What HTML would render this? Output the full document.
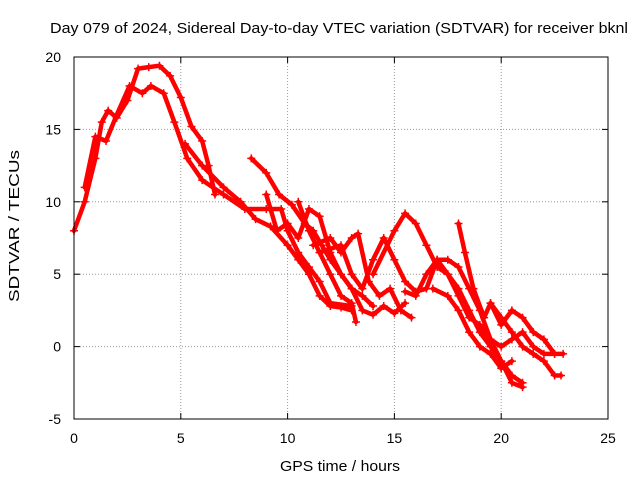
<!DOCTYPE html>
<html><head><meta charset="utf-8"><style>
body{margin:0;background:#fff}
svg{display:block;font-family:"Liberation Sans",sans-serif;font-size:14px}
</style></head><body>
<svg id="c" width="640" height="480">
<text x="50" y="33" textLength="578" lengthAdjust="spacingAndGlyphs" font-size="15">Day 079 of 2024, Sidereal Day-to-day VTEC variation (SDTVAR) for receiver bknl</text>
<text x="280" y="471" textLength="120" lengthAdjust="spacingAndGlyphs" font-size="15">GPS time / hours</text>
<text transform="translate(19,302) rotate(-90)" textLength="152" lengthAdjust="spacingAndGlyphs" font-size="15">SDTVAR / TECUs</text>
<g id="grid"></g><g id="ticks"></g><g id="marks"></g>
<rect x="74" y="57" width="534" height="362" fill="none" stroke="#000"/>
</svg>
<script>
const xTicks=[0,5,10,15,20,25];
const yTicks=[-5,0,5,10,15,20];
const t1=[[0,8],[0.5,10],[1,13],[1.3,15.5],[1.6,16.3],[2,15.8],[2.5,17],[3,19.2],[3.5,19.3],[4,19.4],[4.5,18.7],[5,17.2],[5.5,15.2],[6,14.2],[6.3,12.5],[6.6,10.5]];
const t2=[[0.5,11],[1,14.5],[1.5,14.2],[2,16],[2.6,18],[3.2,17.5],[3.6,18],[4.2,17.5],[4.7,15.5],[5.3,13],[6,11.5],[7,10.5],[8,9.5],[9,9.5],[9.7,9.5],[10,8],[10.5,6.5],[11,5.5],[11.5,4.5],[12,3],[13,2.8]];
const t3=[[5.2,14],[6,12.5],[7,11],[7.8,10],[8.5,8.8],[9.2,8.3],[10,7],[10.5,6],[11,5],[11.5,3.5],[12,2.8],[12.5,2.7],[13,2.5]];
const t4=[[8.3,13],[9,12],[9.6,10.5],[10.2,9.8],[10.8,8.5],[11.2,8],[11.6,7],[12,6],[12.5,5],[13,4],[13.5,2.5],[14,2.2],[14.5,2.8],[15,2.3],[15.5,3]];
const t5=[[9,10.5],[9.5,8],[10,8.5],[10.5,7.5],[11,9.5],[11.5,9],[12,6.5],[12.5,5],[13,4],[13.5,3.5],[14,2.8]];
const t6=[[10.5,10],[11,8],[11.5,6.5],[12,5],[12.5,3.5],[13,3],[13.2,1.7]];
const t7=[[11.2,7],[12,7.5],[12.5,6.5],[13,7.5],[13.3,7.8],[13.8,4.5],[14.3,3.5],[14.8,4],[15.3,2.5],[15.8,2]];
const t8=[[11.5,6.5],[12.5,7],[13,5],[13.5,4],[14,6],[14.5,7.5],[15,6],[15.5,4.5],[16,3.8],[16.5,4],[17,6],[17.5,6],[18,5.5],[18.5,4],[19,2.5],[19.5,0.5],[20,-1],[20.5,-2.5],[21,-2.8]];
const t9=[[14,5],[15,8],[15.5,9.2],[16,8.5],[16.5,7],[17,5.5],[17.5,5],[18,4],[18.5,2.5],[19,1],[19.5,0],[20,-1],[20.5,-2],[21,-2.5]];
const t10=[[18,8.5],[18.3,6.5],[18.7,4],[19.2,2],[19.5,3],[20,2],[20.5,1],[21,0],[21.5,-0.5],[22,-1],[22.5,-2],[22.8,-2]];
const t11=[[15.5,3.8],[16,3.5],[16.5,5],[17,6],[17.5,5],[18,3.5],[18.5,2],[19,1.5],[19.5,0.5],[20,0],[20.5,0.5],[21,1],[21.5,0],[22,-0.5],[22.5,-0.5],[22.9,-0.5]];
const t12=[[16.8,4],[17.5,3.5],[18,2.5],[18.5,1],[19,0],[19.5,-0.5],[20,-1.5],[20.5,-1]];
const t13=[[19.5,3],[20,1.5],[20.5,2.5],[21,2],[21.5,1],[22,0.5],[22.5,-0.5]];
const tracks=[t1,t2,t3,t4,t5,t6,t7,t8,t9,t10,t11,t12,t13];
const NS='http://www.w3.org/2000/svg';
const X=v=>74+v*534/25, Y=v=>57+(20-v)*362/25;
function mk(tag,attrs,parent){const e=document.createElementNS(NS,tag);for(const k in attrs)e.setAttribute(k,attrs[k]);parent.appendChild(e);return e;}
const grid=document.getElementById('grid'),ticks=document.getElementById('ticks'),marks=document.getElementById('marks');
xTicks.forEach(t=>{
 const x=X(t);
 if(t>0&&t<25){const g=mk('line',{x1:x,x2:x,y1:57,y2:419,stroke:'#999','stroke-dasharray':'1,2'},grid);
 
 }
 mk('line',{x1:x,x2:x,y1:419,y2:413,stroke:'#000'},ticks);mk('line',{x1:x,x2:x,y1:57,y2:63,stroke:'#000'},ticks);
 const l=mk('text',{x:x,y:443,'text-anchor':'middle'},ticks);l.textContent=t;
 
 
});
yTicks.forEach(t=>{
 const y=Y(t);
 if(t>-5&&t<20){const g=mk('line',{x1:74,x2:608,y1:y,y2:y,stroke:'#999','stroke-dasharray':'1,2'},grid);
 
 }
 mk('line',{x1:74,x2:80,y1:y,y2:y,stroke:'#000'},ticks);mk('line',{x1:608,x2:602,y1:y,y2:y,stroke:'#000'},ticks);
 const l=mk('text',{x:61,y:y+5,'text-anchor':'end'},ticks);l.textContent=t;
 
 
});
tracks.forEach((tr,i)=>{
 const p=mk('polyline',{points:tr.map(d=>X(d[0])+','+Y(d[1])).join(' '),fill:'none',stroke:'#f00','stroke-width':4.5,'stroke-linejoin':'round','stroke-linecap':'round'},marks);
 
 
 tr.forEach(d=>{
  const x=X(d[0]),y=Y(d[1]);
  const m=mk('path',{d:`M${x-4} ${y}H${x+4}M${x} ${y-4}V${y+4}`,stroke:'#f00','stroke-width':1.5},marks);
  
  
 });
});
</script>
</body></html>
